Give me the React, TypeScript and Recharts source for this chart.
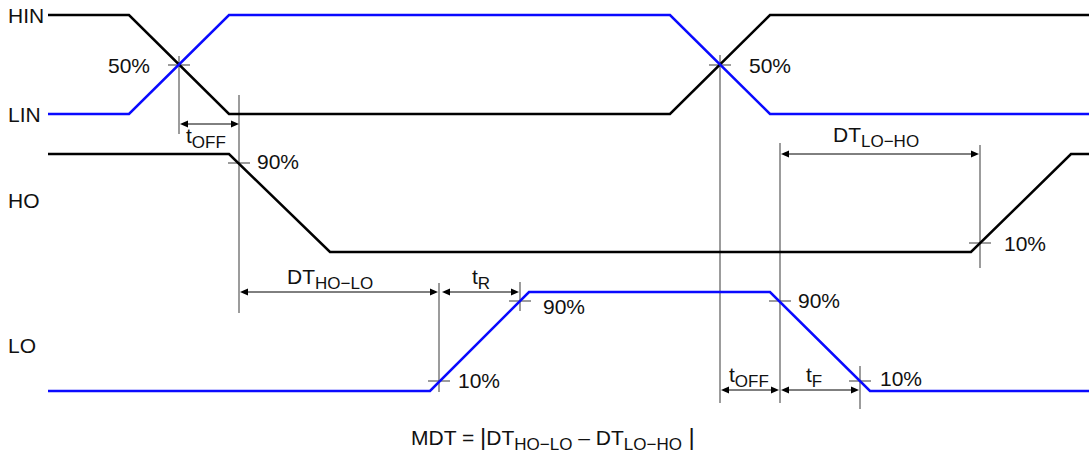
import React from 'react';
import { LineChart, Line, XAxis, YAxis, ReferenceLine, ReferenceDot } from 'recharts';

// signal waveforms: time (x) and level (y, drawn top-down)
const HIN_T = [48, 129, 229, 670, 770, 1089];
const HIN_Y = [15, 15, 114, 114, 15, 15];
const LIN_T = [48, 129, 229, 670, 770, 1089];
const LIN_Y = [114, 114, 15, 15, 114, 114];
const HO_T = [48, 229, 330, 971, 1071, 1089];
const HO_Y = [154, 154, 252, 252, 154, 154];
const LO_T = [48, 430, 529, 770, 870, 1089];
const LO_Y = [391, 391, 292, 292, 391, 391];

// vertical guide lines
const GUIDE_X = [179, 239, 439, 520, 720, 780, 860, 980];
const GUIDE_TOP = [56, 95, 283, 282, 55, 143, 366, 145];
const GUIDE_BOTTOM = [134, 313, 392, 311, 403, 403, 409, 268];

// threshold crossing marks
const MARK_X = [179, 720, 239, 980, 439, 520, 780, 860];
const MARK_Y = [65, 65, 163, 243, 381, 301, 301, 381];
const MARK_TEXT = ['50%', '50%', '90%', '10%', '10%', '90%', '90%', '10%'];
const MARK_LABEL_X = [108, 749, 257, 1004, 458, 543, 798, 880];
const MARK_LABEL_Y = [65, 65, 161, 243, 380, 306, 300, 378];

// timing intervals
const ARROW_FROM = [180, 240, 442, 781, 721, 781];
const ARROW_TO = [239, 438, 519, 979, 779, 859];
const ARROW_Y = [124, 292, 292, 154, 390, 390];
const ARROW_MAIN = ['t', 'DT', 't', 'DT', 't', 't'];
const ARROW_SUB = ['OFF', 'HO\u2212LO', 'R', 'LO\u2212HO', 'OFF', 'F'];
const ARROW_LABEL_X = [186, 287, 472, 833, 729, 806];
const ARROW_LABEL_Y = [143, 284, 284, 142, 382, 382];

const SIGNALS = ['HIN', 'LIN', 'HO', 'LO'];
const SIGNAL_Y = [15, 114, 200, 345];

const FONT = '"Liberation Sans", Arial, Helvetica, sans-serif';
const BLUE = '#0a0aff';
const GUIDE = '#5a5a5a';

const toData = (t: number[], y: number[]) => t.map((x, i) => ({ t: x, v: y[i] }));

const ArrowShape = (p: any) => {
  const { x1, y1, x2, y2 } = p;
  const h = 8;
  const w = 3.5;
  return (
    <g>
      <line x1={x1 + h} y1={y1} x2={x2 - h} y2={y2} stroke="#000" strokeWidth={1} />
      <polygon points={`${x1},${y1} ${x1 + h},${y1 - w} ${x1 + h},${y1 + w}`} fill="#000" />
      <polygon points={`${x2},${y2} ${x2 - h},${y2 - w} ${x2 - h},${y2 + w}`} fill="#000" />
    </g>
  );
};

const textShape = (content: React.ReactNode, anchor = 'start', baseline = 'central') => (p: any) => (
  <text
    x={p.cx}
    y={p.cy}
    textAnchor={anchor}
    dominantBaseline={baseline}
    fontFamily={FONT}
    fontSize={21}
    fill="#111"
  >
    {content}
  </text>
);

const subLabel = (main: string, sub: string) => (
  <>
    <tspan>{main}</tspan>
    <tspan fontSize={17} dy={5}>{sub}</tspan>
  </>
);

const lineProps = {
  dataKey: 'v',
  type: 'linear' as const,
  strokeWidth: 2.5,
  dot: false,
  activeDot: false,
  isAnimationActive: false,
};

export default function App() {
  return (
    <div style={{ position: 'absolute', left: 0, top: 0, background: '#fff' }}>
      <LineChart width={1089} height={459} margin={{ top: 0, right: 0, bottom: 0, left: 0 }}>
        <XAxis type="number" dataKey="t" domain={[0, 1089]} hide allowDataOverflow />
        <YAxis type="number" domain={[0, 459]} reversed hide allowDataOverflow />

        {GUIDE_X.map((x, i) => (
          <ReferenceLine
            key={`g${i}`}
            segment={[{ x, y: GUIDE_TOP[i] }, { x, y: GUIDE_BOTTOM[i] }]}
            stroke={GUIDE}
            strokeWidth={1.2}
          />
        ))}
        {MARK_X.map((x, i) => (
          <ReferenceLine
            key={`m${i}`}
            segment={[{ x: x - 11, y: MARK_Y[i] }, { x: x + 11, y: MARK_Y[i] }]}
            stroke={GUIDE}
            strokeWidth={1.2}
          />
        ))}
        {ARROW_FROM.map((x, i) => (
          <ReferenceLine
            key={`a${i}`}
            segment={[{ x, y: ARROW_Y[i] }, { x: ARROW_TO[i], y: ARROW_Y[i] }]}
            shape={ArrowShape}
          />
        ))}

        <Line data={toData(HIN_T, HIN_Y)} stroke="#000" {...lineProps} />
        <Line data={toData(LIN_T, LIN_Y)} stroke={BLUE} {...lineProps} />
        <Line data={toData(HO_T, HO_Y)} stroke="#000" {...lineProps} />
        <Line data={toData(LO_T, LO_Y)} stroke={BLUE} {...lineProps} />

        {SIGNALS.map((s, i) => (
          <ReferenceDot key={`s${i}`} x={8} y={SIGNAL_Y[i]} r={0} shape={textShape(s)} />
        ))}
        {MARK_TEXT.map((s, i) => (
          <ReferenceDot key={`mt${i}`} x={MARK_LABEL_X[i]} y={MARK_LABEL_Y[i]} r={0} shape={textShape(s)} />
        ))}
        {ARROW_MAIN.map((s, i) => (
          <ReferenceDot
            key={`at${i}`}
            x={ARROW_LABEL_X[i]}
            y={ARROW_LABEL_Y[i]}
            r={0}
            shape={textShape(subLabel(s, ARROW_SUB[i]), 'start', 'alphabetic')}
          />
        ))}
        <ReferenceDot
          x={411}
          y={445}
          r={0}
          shape={textShape(
            <>
              <tspan>MDT = </tspan>
              <tspan fontSize={24}>|</tspan>
              <tspan>DT</tspan>
              <tspan fontSize={17} dy={5}>HO{'\u2212'}LO</tspan>
              <tspan dy={-5}> {'\u2013'} DT</tspan>
              <tspan fontSize={17} dy={5}>LO{'\u2212'}HO</tspan>
              <tspan fontSize={24} dy={-5}> |</tspan>
            </>,
            'start',
            'alphabetic'
          )}
        />
      </LineChart>
    </div>
  );
}
